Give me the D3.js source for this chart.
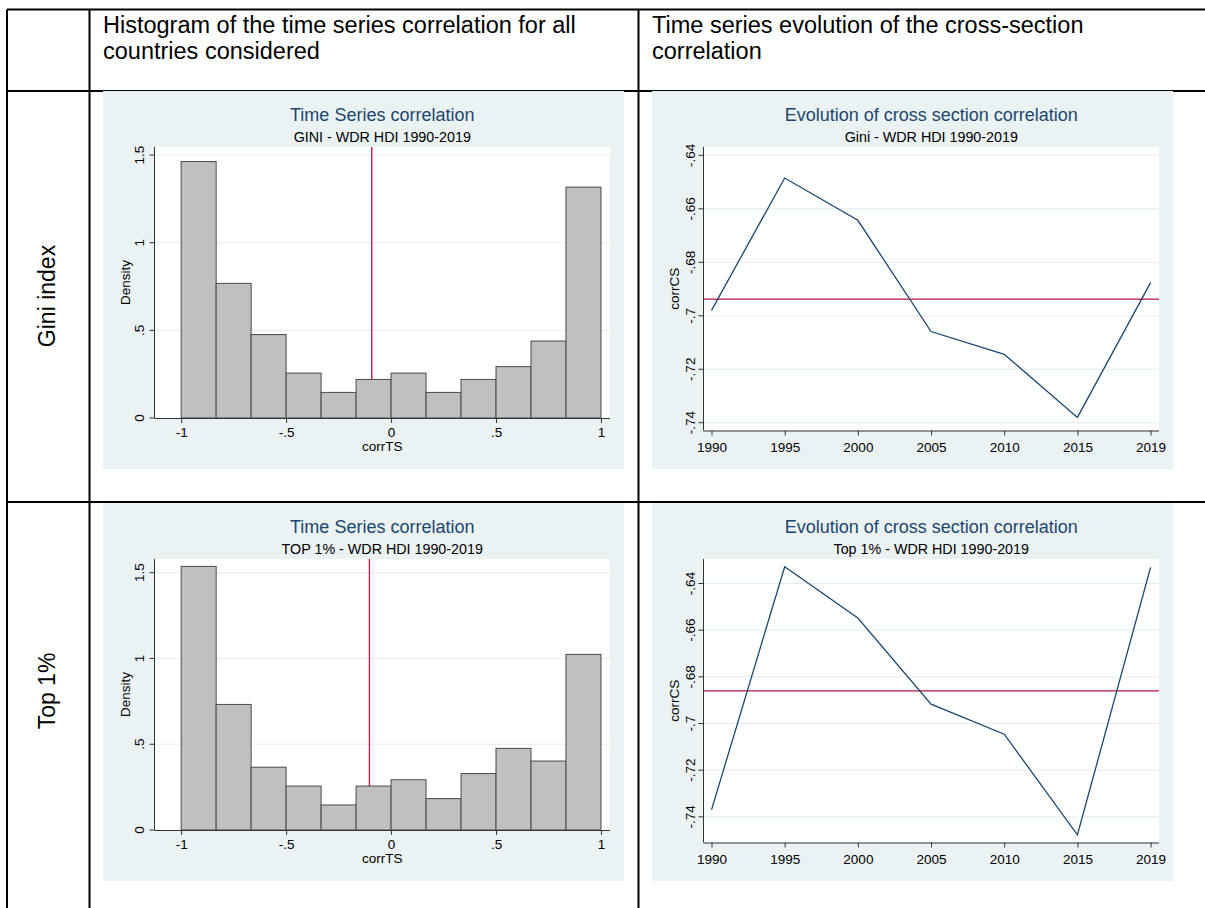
<!DOCTYPE html>
<html>
<head>
<meta charset="utf-8">
<script src="https://cdnjs.cloudflare.com/ajax/libs/d3/7.8.5/d3.min.js"></script>
<style>
  body { margin: 0; background: #fff; }
  svg { display: block; font-family: "Liberation Sans", Arial, sans-serif; }
</style>
</head>
<body>
<script>
// histogram bins: edges of the 12 bins of corrTS
var binEdges = [-1, -0.8333, -0.6667, -0.5, -0.3333, -0.1667, 0, 0.1667, 0.3333, 0.5, 0.6667, 0.8333, 1];
var giniDensity = [1.463, 0.768, 0.476, 0.256, 0.146, 0.220, 0.256, 0.146, 0.220, 0.293, 0.439, 1.317];
var top1Density = [1.537, 0.732, 0.366, 0.256, 0.146, 0.256, 0.293, 0.183, 0.329, 0.476, 0.402, 1.024];
var giniMeanTS = -0.092;
var top1MeanTS = -0.103;
var histXTicks = [-1, -0.5, 0, 0.5, 1];
var histYTicks = [0, 0.5, 1, 1.5];

// cross-section correlation by year
var years = ["1990", "1995", "2000", "2005", "2010", "2015", "2019"];
var giniCS = [-0.698, -0.6485, -0.6643, -0.7059, -0.7144, -0.738, -0.6876];
var top1CS = [-0.737, -0.6328, -0.6548, -0.6917, -0.7046, -0.7477, -0.6331];
var giniMeanCS = -0.6938;
var top1MeanCS = -0.686;
var csYTicks = [-0.64, -0.66, -0.68, -0.70, -0.72, -0.74];

var headers = [
  ["Histogram of the time series correlation for all", "countries considered"],
  ["Time series evolution of the cross-section", "correlation"]
];
var rowLabels = ["Gini index", "Top 1%"];

var W = 1205, H = 908;
var bg = "#eaf2f3", grid = "#e3ecee", navy = "#1a476f", red = "#b5153f";

// stata style numbers: -0.5 -> -.5
var fmt = function(d) {
  return String(+d.toFixed(4)).replace(/^(-?)0\./, "$1.");
};

var svg = d3.select("body").append("svg")
  .attr("width", W).attr("height", H);

// table lines
var lines = [
  [7, 9.5, W, 9.5], [7, 91, W, 91], [7, 502, W, 502],
  [7, 9.5, 7, H], [89.5, 9.5, 89.5, H], [638.5, 9.5, 638.5, H]
];
svg.append("g").selectAll("line").data(lines).enter().append("line")
  .attr("x1", d => d[0]).attr("y1", d => d[1])
  .attr("x2", d => d[2]).attr("y2", d => d[3])
  .attr("stroke", "#000").attr("stroke-width", 2);

// header text
headers.forEach(function(h, i) {
  var t = svg.append("text").attr("font-size", 23.5).attr("fill", "#000");
  h.forEach(function(s, j) {
    t.append("tspan").attr("x", i == 0 ? 103 : 652).attr("y", 33 + j * 26).text(s);
  });
});

rowLabels.forEach(function(s, i) {
  svg.append("text")
    .attr("transform", "translate(47," + (i == 0 ? 296 : 691) + ") rotate(-90)")
    .attr("text-anchor", "middle").attr("dy", "0.35em")
    .attr("font-size", 23).text(s);
});

var pw = 521, ph = 378;
var plotL = 51.5, plotR = 507;

function panel(x, y, title, sub) {
  var g = svg.append("g").attr("transform", "translate(" + x + "," + y + ")");
  g.append("rect").attr("width", pw).attr("height", ph).attr("fill", bg);
  g.append("text").attr("x", (plotL + plotR) / 2).attr("y", 30)
    .attr("text-anchor", "middle").attr("font-size", 18).attr("fill", navy).text(title);
  g.append("text").attr("x", (plotL + plotR) / 2).attr("y", 51)
    .attr("text-anchor", "middle").attr("font-size", 14.3).attr("fill", "#000").text(sub);
  return g;
}

function yAxisRotated(g, y, ticks, labelX) {
  g.append("line").attr("x1", plotL).attr("x2", plotL)
    .attr("y1", y.range()[1]).attr("y2", y.range()[0]).attr("stroke", "#333");
  g.selectAll(".yt").data(ticks).enter().append("line")
    .attr("x1", plotL - 5).attr("x2", plotL)
    .attr("y1", d => y(d)).attr("y2", d => y(d)).attr("stroke", "#333");
  g.selectAll(".yl").data(ticks).enter().append("text")
    .attr("transform", d => "translate(" + labelX + "," + y(d) + ") rotate(-90)")
    .attr("text-anchor", "middle").attr("font-size", 13.5).text(fmt);
}

function hist(x0, y0, title, sub, dens, meanTS, yMax) {
  var g = panel(x0, y0, title, sub);
  var top = 56, bot = 327;
  var x = d3.scaleLinear().domain([-1.127, 1.043]).range([plotL, plotR]);
  var y = d3.scaleLinear().domain([0, yMax]).range([bot, top]);
  g.append("rect").attr("x", plotL).attr("y", top)
    .attr("width", plotR - plotL).attr("height", bot - top).attr("fill", "#fff");
  g.selectAll(".grid").data(histYTicks.slice(1)).enter().append("line")
    .attr("x1", plotL).attr("x2", plotR)
    .attr("y1", d => y(d)).attr("y2", d => y(d)).attr("stroke", grid);
  g.append("line").attr("x1", x(meanTS)).attr("x2", x(meanTS))
    .attr("y1", top).attr("y2", bot).attr("stroke", red).attr("stroke-width", 1.3);
  g.selectAll(".bar").data(dens).enter().append("rect")
    .attr("x", (d, i) => x(binEdges[i]))
    .attr("width", (d, i) => x(binEdges[i + 1]) - x(binEdges[i]))
    .attr("y", d => y(d)).attr("height", d => bot - y(d))
    .attr("fill", "#c0c0c0").attr("stroke", "#4a4a4a").attr("stroke-width", 1);
  var xa = g.append("g").attr("transform", "translate(0," + bot + ")")
    .call(d3.axisBottom(x).tickValues(histXTicks).tickFormat(fmt).tickSize(5).tickSizeOuter(0));
  xa.select(".domain").attr("d", "M" + plotL + ",0.5H" + plotR).attr("stroke", "#333");
  xa.selectAll(".tick line").attr("stroke", "#333");
  xa.selectAll("text").attr("font-size", 13.5).attr("font-family", null).attr("fill", "#000").attr("dy", null).attr("y", 19);
  yAxisRotated(g, y, histYTicks, 41);
  g.append("text").attr("x", (plotL + plotR) / 2).attr("y", 360)
    .attr("text-anchor", "middle").attr("font-size", 13.5).text("corrTS");
  g.append("text").attr("transform", "translate(27," + (top + bot) / 2 + ") rotate(-90)")
    .attr("text-anchor", "middle").attr("font-size", 13.5).text("Density");
}

function csLine(x0, y0, title, sub, vals, meanCS, dom) {
  var g = panel(x0, y0, title, sub);
  var top = 56, bot = 339.5;
  var x = d3.scalePoint().domain(years).range([59.5, 498.6]);
  var y = d3.scaleLinear().domain(dom).range([bot, top]);
  g.append("rect").attr("x", plotL).attr("y", top)
    .attr("width", plotR - plotL).attr("height", bot - top).attr("fill", "#fff");
  g.selectAll(".grid").data(csYTicks).enter().append("line")
    .attr("x1", plotL).attr("x2", plotR)
    .attr("y1", d => y(d)).attr("y2", d => y(d)).attr("stroke", grid);
  g.append("line").attr("x1", plotL).attr("x2", plotR)
    .attr("y1", y(meanCS)).attr("y2", y(meanCS)).attr("stroke", red).attr("stroke-width", 1.3);
  g.append("path").datum(vals)
    .attr("d", d3.line().x((d, i) => x(years[i])).y(d => y(d)))
    .attr("fill", "none").attr("stroke", navy).attr("stroke-width", 1.3);
  var xa = g.append("g").attr("transform", "translate(0," + bot + ")")
    .call(d3.axisBottom(x).tickSize(5).tickSizeOuter(0));
  xa.select(".domain").attr("d", "M" + plotL + ",0.5H" + plotR).attr("stroke", "#333");
  xa.selectAll(".tick line").attr("stroke", "#333");
  xa.selectAll("text").attr("font-size", 13.5).attr("font-family", null).attr("fill", "#000").attr("dy", null).attr("y", 21);
  yAxisRotated(g, y, csYTicks, 42.5);
  g.append("text").attr("transform", "translate(27," + (top + bot) / 2 + ") rotate(-90)")
    .attr("text-anchor", "middle").attr("font-size", 13.5).text("corrCS");
}

hist(103, 91, "Time Series correlation", "GINI - WDR HDI 1990-2019", giniDensity, giniMeanTS, 1.546);
csLine(652, 91, "Evolution of cross section correlation", "Gini - WDR HDI 1990-2019", giniCS, giniMeanCS, [-0.7429, -0.6369]);
hist(103, 503, "Time Series correlation", "TOP 1% - WDR HDI 1990-2019", top1Density, top1MeanTS, 1.580);
csLine(652, 503, "Evolution of cross section correlation", "Top 1% - WDR HDI 1990-2019", top1CS, top1MeanCS, [-0.751, -0.6295]);
</script>
</body>
</html>
